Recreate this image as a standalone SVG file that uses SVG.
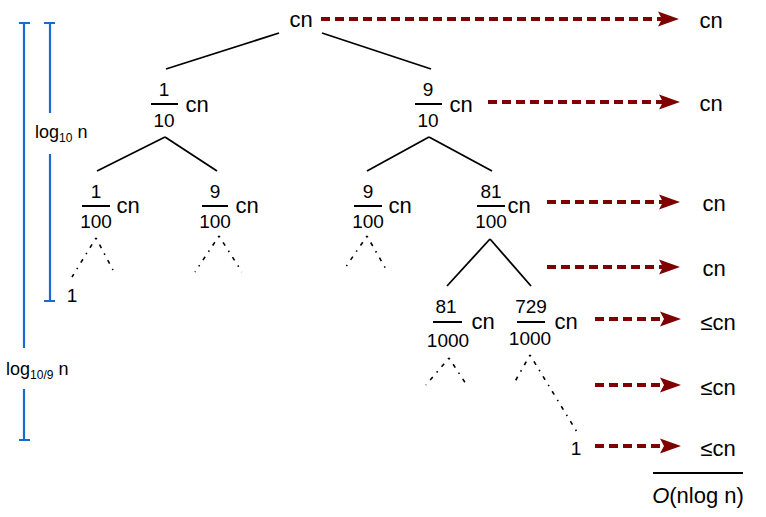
<svg xmlns="http://www.w3.org/2000/svg" width="766" height="517" viewBox="0 0 766 517">
<defs>
<style>
text{font-family:"Liberation Sans",Arial,sans-serif;fill:#000}
.cn{font-size:22px;text-anchor:middle}
.num{font-size:19px;text-anchor:middle}
.bar{stroke:#000;stroke-width:2}
.edge{stroke:#000;stroke-width:1.8;fill:none}
.dot{stroke:#000;stroke-width:1.6;fill:none;stroke-dasharray:1.5 6 4 6;stroke-linecap:butt}
.arr{stroke:#7f0000;stroke-width:4;fill:none;stroke-dasharray:9 5;marker-end:url(#ah)}
.scale{stroke:#1a6acb;stroke-width:2.2;fill:none}
.lbl{font-size:18px}
.sub{font-size:12px}
</style>
<marker id="ah" markerUnits="userSpaceOnUse" markerWidth="22" markerHeight="16" refX="4" refY="7.5" orient="auto" viewBox="0 0 22 15">
<path d="M0,0 L21,7.5 L0,15 L4,7.5 z" fill="#7f0000"/>
</marker>
</defs>
<rect width="766" height="517" fill="#fff"/>

<g id="scale">
<path class="scale" d="M24,23 V348 M24,389 V440 M19,23 H30 M19,440 H30"/>
<path class="scale" d="M50,23 V113 M50,154 V301 M44,23 H55 M44,301 H55"/>
<text class="lbl" x="35" y="138">log<tspan class="sub" dy="4">10</tspan><tspan dy="-4"> n</tspan></text>
<text class="lbl" x="6" y="375">log<tspan class="sub" dy="4">10/9</tspan><tspan dy="-4"> n</tspan></text>
</g>

<g id="connectors">
<line class="edge" x1="279" y1="33" x2="166" y2="69"/>
<line class="edge" x1="322" y1="33" x2="431" y2="69"/>
<line class="edge" x1="165" y1="137" x2="97" y2="171"/>
<line class="edge" x1="165" y1="137" x2="217" y2="171"/>
<line class="edge" x1="429" y1="137" x2="367" y2="171"/>
<line class="edge" x1="429" y1="137" x2="492" y2="171"/>
<line class="edge" x1="490" y1="239" x2="447" y2="286"/>
<line class="edge" x1="490" y1="239" x2="531" y2="286"/>
<path class="dot" d="M96,238 L72,277 M96,238 L113,270"/>
<path class="dot" d="M219,236 L195,272 M219,236 L242,272"/>
<path class="dot" d="M367,236 L343,271 M367,236 L387,271"/>
<path class="dot" d="M449,358 L426,385 M449,358 L468,387"/>
<path class="dot" d="M530,355 L513,385 M530,355 L577,432"/>
<line class="arr" x1="321" y1="19" x2="662" y2="19"/>
<line class="arr" x1="488" y1="102" x2="663" y2="102"/>
<line class="arr" x1="547" y1="202" x2="663" y2="202"/>
<line class="arr" x1="547" y1="267" x2="663" y2="267"/>
<line class="arr" x1="595" y1="319" x2="664" y2="319"/>
<line class="arr" x1="595" y1="385" x2="664" y2="385"/>
<line class="arr" x1="595" y1="446" x2="664" y2="446"/>
</g>

<g id="root"><text class="cn" x="301" y="27">cn</text></g>

<g id="n-1-10">
<text class="num" x="164" y="96">1</text>
<line class="bar" x1="151" y1="104" x2="178" y2="104"/>
<text class="num" x="164" y="127">10</text>
<text class="cn" x="197" y="112">cn</text>
</g>
<g id="n-9-10">
<text class="num" x="428" y="96">9</text>
<line class="bar" x1="415" y1="104" x2="442" y2="104"/>
<text class="num" x="428" y="127">10</text>
<text class="cn" x="461" y="112">cn</text>
</g>

<g id="n-1-100">
<text class="num" x="96" y="198">1</text>
<line class="bar" x1="82" y1="206" x2="110" y2="206"/>
<text class="num" x="96" y="228">100</text>
<text class="cn" x="128" y="213">cn</text>
</g>
<g id="n-9-100a">
<text class="num" x="215" y="198">9</text>
<line class="bar" x1="202" y1="206" x2="228" y2="206"/>
<text class="num" x="215" y="228">100</text>
<text class="cn" x="247" y="213">cn</text>
</g>
<g id="n-9-100b">
<text class="num" x="368" y="198">9</text>
<line class="bar" x1="354" y1="206" x2="382" y2="206"/>
<text class="num" x="368" y="228">100</text>
<text class="cn" x="400" y="213">cn</text>
</g>
<g id="n-81-100">
<text class="num" x="491" y="198">81</text>
<line class="bar" x1="477" y1="206" x2="505" y2="206"/>
<text class="num" x="491" y="228">100</text>
<text class="cn" x="519" y="213">cn</text>
</g>

<g id="n-81-1000">
<text class="num" x="446" y="313">81</text>
<line class="bar" x1="433" y1="322" x2="462" y2="322"/>
<text class="num" x="448" y="347">1000</text>
<text class="cn" x="483" y="329">cn</text>
</g>
<g id="n-729-1000">
<text class="num" x="531" y="313">729</text>
<line class="bar" x1="517" y1="322" x2="545" y2="322"/>
<text class="num" x="530" y="345">1000</text>
<text class="cn" x="566" y="329">cn</text>
</g>

<g id="leaf-left"><text class="num" x="72" y="302">1</text></g>
<g id="leaf-right"><text class="num" x="576" y="455">1</text></g>

<g id="costs">
<text class="cn" x="711" y="28">cn</text>
<text class="cn" x="711" y="111">cn</text>
<text class="cn" x="714" y="211">cn</text>
<text class="cn" x="714" y="276">cn</text>
<text class="cn" x="718" y="330">≤cn</text>
<text class="cn" x="718" y="395">≤cn</text>
<text class="cn" x="718" y="456">≤cn</text>
<line x1="653" y1="473" x2="743" y2="473" stroke="#000" stroke-width="1.8"/>
<text class="cn" x="698" y="503"><tspan font-style="italic">O</tspan>(nlog n)</text>
</g>
</svg>
